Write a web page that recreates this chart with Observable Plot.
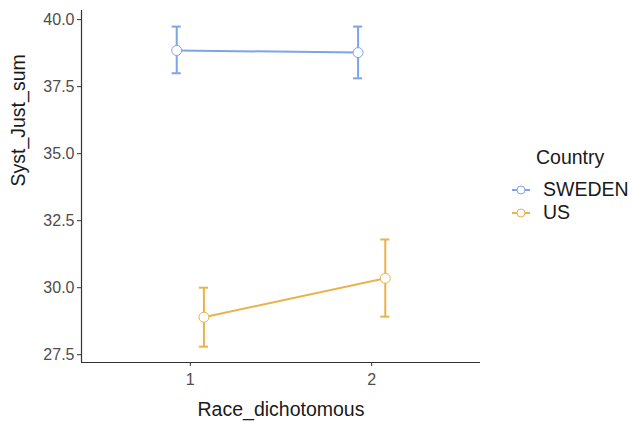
<!DOCTYPE html>
<html>
<head>
<meta charset="utf-8">
<script src="https://cdn.jsdelivr.net/npm/d3@7"></script>
<script src="https://cdn.jsdelivr.net/npm/@observablehq/plot@0.6"></script>
<style>
  html, body { margin: 0; padding: 0; background: #fff; }
  body { width: 632px; height: 424px; position: relative; overflow: hidden; font-family: "Liberation Sans", Arial, sans-serif; }
  #chart { position: absolute; left: 0; top: 0; }
  #chart svg text { font-family: "Liberation Sans", Arial, sans-serif; }
  #legend { position: absolute; left: 512px; top: 148px; color: #1a1a1a; line-height: 1; }
  #legend .title { font-size: 19.5px; margin-left: 24px; margin-bottom: 11px; }
  #legend .item { display: flex; align-items: center; height: 23px; font-size: 19.5px; }
  #legend svg { margin-right: 13px; }
</style>
</head>
<body>
<div id="chart"></div>
<div id="legend"></div>
<script>
const countries = ["SWEDEN", "US"];
const colors = ["#7ba4e9", "#e9b24a"];
const races = [1, 2];
const swedenMean = [38.85, 38.77];
const swedenLow = [38.0, 37.81];
const swedenHigh = [39.74, 39.74];
const usMean = [28.90, 30.35];
const usLow = [27.80, 28.92];
const usHigh = [30.0, 31.80];
const yTicks = [27.5, 30.0, 32.5, 35.0, 37.5, 40.0];

const dodge = 0.075;
const capHalf = 0.025;
const series = [
  {country: "SWEDEN", mean: swedenMean, low: swedenLow, high: swedenHigh, offset: -dodge},
  {country: "US", mean: usMean, low: usLow, high: usHigh, offset: dodge}
];
const data = [];
for (const s of series) {
  races.forEach((r, i) => {
    data.push({country: s.country, race: r, x: r + s.offset, mean: s.mean[i], low: s.low[i], high: s.high[i]});
  });
}
const caps = data.flatMap(d => [{...d, yc: d.low}, {...d, yc: d.high}]);

const chart = Plot.plot({
  width: 632,
  height: 424,
  marginLeft: 81,
  marginRight: 152,
  marginTop: 10,
  marginBottom: 62,
  style: {fontFamily: "'Liberation Sans', Arial, sans-serif", fontSize: "16px", background: "#fff"},
  x: {domain: [0.4, 2.6], label: null},
  y: {domain: [27.21, 40.34], label: null},
  color: {domain: countries, range: colors},
  marks: [
    Plot.ruleX(data, {x: "x", y1: "low", y2: "high", stroke: "country", strokeWidth: 2}),
    Plot.ruleY(caps, {y: "yc", x1: d => d.x - capHalf, x2: d => d.x + capHalf, stroke: "country", strokeWidth: 2}),
    Plot.line(data, {x: "x", y: "mean", z: "country", stroke: "country", strokeWidth: 2}),
    Plot.dot(data, {x: "x", y: "mean", stroke: "country", fill: "white", r: 5, strokeWidth: 1}),
    Plot.axisX({ticks: races, tickFormat: d => String(d), tickSize: 4, tickPadding: 7, fill: "#4d4d4d", stroke: "#333", fontSize: 16, label: null}),
    Plot.axisY({ticks: yTicks, tickFormat: d => d.toFixed(1), tickSize: 4, tickPadding: 3, fill: "#4d4d4d", stroke: "#333", fontSize: 16, label: null}),
    Plot.ruleY([27.21], {stroke: "#333", strokeWidth: 1.2}),
    Plot.ruleX([0.4], {stroke: "#333", strokeWidth: 1.2}),
    Plot.text(["Race_dichotomous"], {frameAnchor: "bottom", dy: 53, fontSize: 19.5, fill: "#1a1a1a"}),
    Plot.text(["Syst_Just_sum"], {frameAnchor: "left", dx: -63, rotate: -90, fontSize: 19.5, fill: "#1a1a1a"})
  ]
});
document.getElementById("chart").appendChild(chart);

const legend = document.getElementById("legend");
const t = document.createElement("div");
t.className = "title";
t.textContent = "Country";
legend.appendChild(t);
countries.forEach((c, i) => {
  const item = document.createElement("div");
  item.className = "item";
  item.innerHTML = `<svg width="18" height="12"><line x1="0" x2="18" y1="6" y2="6" stroke="${colors[i]}" stroke-width="2"/><circle cx="9" cy="6" r="4" fill="white" stroke="${colors[i]}" stroke-width="1"/></svg><span>${c}</span>`;
  legend.appendChild(item);
});
</script>
</body>
</html>
